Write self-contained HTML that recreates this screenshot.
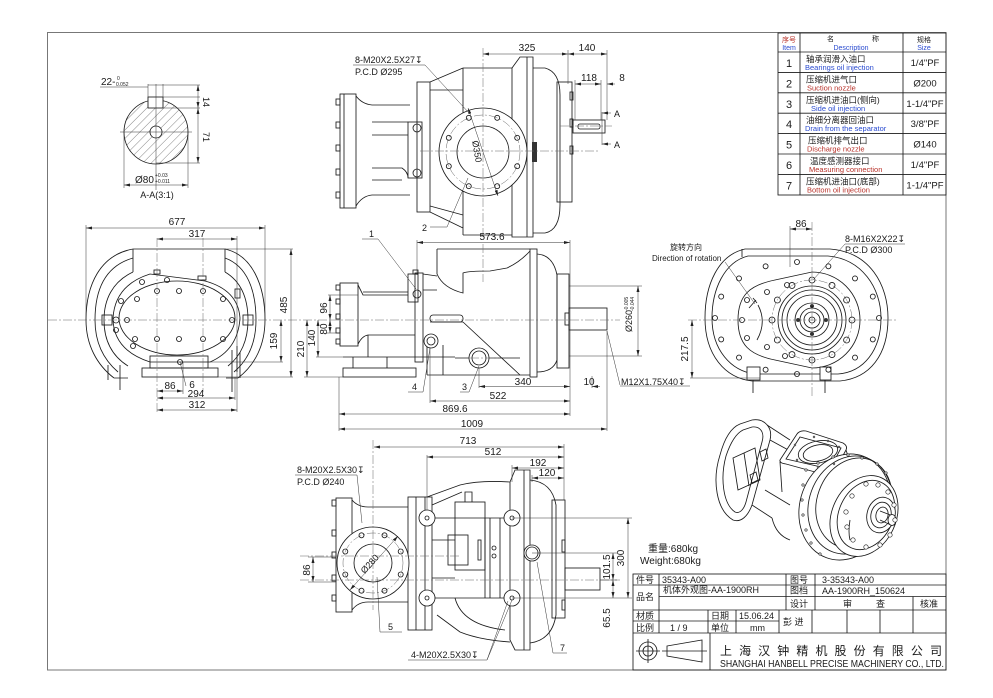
<!DOCTYPE html>
<html><head><meta charset="utf-8"><title>AA-1900RH</title>
<style>
html,body{margin:0;padding:0;background:#fff;width:993px;height:698px;overflow:hidden}
svg{display:block}
.d{stroke:#1a1a1a;fill:none;stroke-width:.85}
.dw{stroke:#1a1a1a;fill:#fff;stroke-width:.85}
.t{stroke:#333;fill:none;stroke-width:.5}
.c{stroke:#666;fill:none;stroke-width:.5;stroke-dasharray:9 2 2 2}
.dm{stroke:#333;fill:none;stroke-width:.5}
text{font-family:"Liberation Sans","Noto Sans CJK SC",sans-serif;fill:#1a1a1a}
.n{font-size:10px}
.s{font-size:9px}
.m{text-anchor:middle}
.bl{fill:#2a4bd0}
.rd{fill:#b8322a}
</style></head><body>
<svg width="993" height="698" viewBox="0 0 993 698" xmlns="http://www.w3.org/2000/svg">
<defs>
<marker id="ar" viewBox="0 0 8 4" refX="8" refY="2" markerWidth="6" markerHeight="3" markerUnits="userSpaceOnUse" orient="auto-start-reverse"><path d="M0,0 L8,2 L0,4z" fill="#222"/></marker>
<pattern id="hatch" patternUnits="userSpaceOnUse" width="6" height="6" patternTransform="rotate(45)"><line x1="0" y1="0" x2="0" y2="6" stroke="#333" stroke-width="0.6"/></pattern>
<clipPath id="aac"><circle cx="156" cy="132" r="32"/></clipPath>
</defs>
<rect width="993" height="698" fill="#fff"/>
<!-- border -->
<rect x="47.5" y="32.5" width="898.5" height="637.5" fill="none" stroke="#777" stroke-width="1"/>

<!-- ============ SECTION A-A ============ -->
<g>
<rect x="120" y="96" width="72" height="72" fill="url(#hatch)" clip-path="url(#aac)"/>
<circle cx="156" cy="132" r="32" class="d"/>
<rect x="148" y="97" width="15" height="11" class="dw"/>
<circle cx="156" cy="132" r="6" class="dw"/>
<line x1="120" y1="132" x2="192" y2="132" class="t"/>
<line x1="156" y1="84" x2="156" y2="190" class="t"/>
<g class="t">
<line x1="148" y1="84" x2="148" y2="108"/><line x1="163" y1="84" x2="163" y2="108"/>
<line x1="148" y1="85" x2="200" y2="85"/>
<line x1="163" y1="97" x2="200" y2="97"/>
<line x1="163" y1="108" x2="200" y2="108"/>
<line x1="156" y1="163" x2="200" y2="163"/>
<line x1="124" y1="132" x2="124" y2="188"/><line x1="188" y1="132" x2="188" y2="188"/>
<line x1="100" y1="87" x2="148" y2="87"/>
</g>
<line x1="198" y1="85" x2="198" y2="108" class="dm" marker-start="url(#ar)" marker-end="url(#ar)"/>
<line x1="198" y1="108" x2="198" y2="163" class="dm" marker-start="url(#ar)" marker-end="url(#ar)"/>
<line x1="124" y1="185" x2="188" y2="185" class="dm" marker-start="url(#ar)" marker-end="url(#ar)"/>
<text x="101" y="85" class="n">22-</text><text x="117" y="80" font-size="5">0</text><text x="116" y="86" font-size="5">0.052</text>
<text x="203" y="102" class="s m" transform="rotate(90 203 102)">14</text>
<text x="203" y="137" class="s m" transform="rotate(90 203 137)">71</text>
<text x="135" y="183" class="n">Ø80</text><text x="155" y="177" font-size="5">+0.03</text><text x="155" y="183" font-size="5">+0.011</text>
<text x="157" y="198" class="s m">A-A(3:1)</text>
</g>

<!-- ============ TOP VIEW ============ -->
<g>
<g class="d">
<rect x="340" y="94" width="16" height="114"/>
<line x1="344" y1="94" x2="344" y2="208"/>
<rect x="336" y="99" width="4" height="6"/><rect x="336" y="122" width="4" height="6"/><rect x="336" y="145" width="4" height="6"/><rect x="336" y="169" width="4" height="6"/><rect x="336" y="192" width="4" height="6"/>
<path d="M356,96 Q362,104 372,105 L410,105"/>
<path d="M356,206 Q362,196 372,195 L410,195"/>
<path d="M372,122 L408,122 M372,135 L408,135 M372,168 L402,168 Q408,172 408,178 M372,180 L402,180"/>
<rect x="408" y="122" width="14" height="56"/>
<circle cx="417" cy="128" r="4"/><circle cx="417" cy="173" r="4"/>
<rect x="417" y="82" width="13" height="130"/>
<path d="M430,82 L463,68 M430,212 L463,228 M430,90 L463,90 M430,206 L463,215"/>
<path d="M463,68 L463,235 M463,68 L512,68 M463,235 L512,235"/>
<path d="M512,68 L520,57 L533,57 L533,237 L512,237 Z"/>
<line x1="527" y1="57" x2="527" y2="237"/>
<path d="M533,68 L545,68 Q560,72 560,95 L560,205 Q560,230 545,233 L533,233"/>
<rect x="557" y="82" width="15" height="120"/>
<rect x="570" y="92" width="3" height="8"/><rect x="570" y="119" width="3" height="8"/><rect x="570" y="146" width="3" height="8"/>
<rect x="573" y="120" width="32" height="13"/>
<rect x="578" y="124" width="22" height="5" rx="2"/>
<circle cx="483" cy="152" r="44" fill="#fff"/>
<circle cx="483" cy="152" r="26"/>
</g>
<rect x="532" y="142" width="5" height="20" fill="#333"/>
<circle cx="483" cy="152" r="37" class="c"/>
<g class="d">
<circle cx="517.2" cy="166.2" r="2.5"/><circle cx="497.2" cy="186.2" r="2.5"/><circle cx="468.8" cy="186.2" r="2.5"/><circle cx="448.8" cy="166.2" r="2.5"/><circle cx="448.8" cy="137.8" r="2.5"/><circle cx="468.8" cy="117.8" r="2.5"/><circle cx="497.2" cy="117.8" r="2.5"/><circle cx="517.2" cy="137.8" r="2.5"/>
</g>
<line x1="420" y1="151" x2="600" y2="151" class="c"/>
<line x1="483" y1="48" x2="483" y2="238" class="c"/>
<line x1="560" y1="126" x2="612" y2="126" class="c"/>
<line x1="468" y1="108" x2="498" y2="196" class="dm" marker-start="url(#ar)" marker-end="url(#ar)"/>
<text x="474" y="152" class="s m" transform="rotate(80 474 152)">Ø350</text>
<g class="t">
<line x1="568" y1="50" x2="568" y2="84"/><line x1="607" y1="50" x2="607" y2="120"/>
<line x1="575" y1="80" x2="575" y2="120"/><line x1="601" y1="80" x2="601" y2="120"/>
<line x1="353" y1="65" x2="425" y2="65"/><line x1="425" y1="65" x2="469" y2="113"/>
<line x1="430" y1="227" x2="447" y2="227"/><line x1="447" y1="227" x2="468" y2="178"/>
<line x1="602" y1="112" x2="602" y2="145"/>
</g>
<line x1="611" y1="113" x2="602" y2="113" class="dm" marker-end="url(#ar)"/>
<line x1="611" y1="144" x2="602" y2="144" class="dm" marker-end="url(#ar)"/>
<line x1="483" y1="54" x2="568" y2="54" class="dm" marker-start="url(#ar)" marker-end="url(#ar)"/>
<line x1="568" y1="54" x2="607" y2="54" class="dm" marker-start="url(#ar)" marker-end="url(#ar)"/>
<line x1="575" y1="84" x2="601" y2="84" class="dm" marker-start="url(#ar)" marker-end="url(#ar)"/>
<line x1="615" y1="84" x2="607" y2="84" class="dm" marker-end="url(#ar)"/>
<text x="527" y="51" class="n m">325</text>
<text x="587" y="51" class="n m">140</text>
<text x="589" y="81" class="n m">118</text>
<text x="622" y="81" class="n m">8</text>
<text x="614" y="117" class="s">A</text><text x="614" y="148" class="s">A</text>
<text x="355" y="63" class="s">8-M20X2.5X27↧</text>
<text x="355" y="75" class="s">P.C.D Ø295</text>
<text x="422" y="231" class="s">2</text>
</g>

<!-- ============ FRONT VIEW (LEFT) ============ -->
<g>
<g class="d">
<path d="M133,249 L225,249 M133,249 L133,272 M225,249 L225,272"/>
<path d="M133,249 C100,255 86,285 86,320 C86,345 97,365 114,378"/>
<path d="M133,258 C105,266 95,290 95,320 C95,343 104,360 118,372"/>
<path d="M133,272 C112,282 104,300 104,320 C104,340 112,356 128,366"/>
<path d="M225,249 C252,255 265,285 265,320 C265,345 255,365 238,378"/>
<path d="M225,258 C247,266 256,290 256,320 C256,343 248,360 234,372"/>
<path d="M225,272 C242,282 248,300 248,320 C248,340 241,356 228,366"/>
<path d="M114,378 L128,378 M238,378 L226,378"/>
<path d="M150,274 L205,281 Q238,290 240,318 Q238,350 210,362 L150,362 Q113,350 113,318 Q115,285 150,274 Z"/>
<ellipse cx="177" cy="318" rx="58" ry="37"/>
<rect x="142" y="368" width="76" height="9"/>
<rect x="150" y="356" width="58" height="12"/>
<rect x="102" y="315" width="10" height="10"/><circle cx="116" cy="320" r="3"/>
<rect x="243" y="315" width="10" height="10"/>
<rect x="154" y="270" width="6" height="4"/><rect x="198" y="276" width="8" height="4"/>
<rect x="235" y="289" width="5" height="9"/>
<path d="M232,350 L232,392 M237,346 L237,372 M240,352 L240,378"/>
<path d="M120,365 L120,390 M108,365 L108,380"/>
</g>
<g class="d">
<circle cx="142" cy="282" r="2.5"/><circle cx="167" cy="280" r="2.5"/><circle cx="121" cy="301" r="2.5"/><circle cx="137" cy="299" r="2.5"/><circle cx="157" cy="291" r="2.5"/><circle cx="179" cy="291" r="2.5"/><circle cx="203" cy="291" r="2.5"/><circle cx="223" cy="299" r="2.5"/><circle cx="127" cy="320" r="2.5"/><circle cx="232" cy="320" r="2.5"/><circle cx="116" cy="330" r="2.5"/><circle cx="135" cy="339" r="2.5"/><circle cx="157" cy="339" r="2.5"/><circle cx="179" cy="339" r="2.5"/><circle cx="203" cy="339" r="2.5"/><circle cx="223" cy="339" r="2.5"/><circle cx="133" cy="346" r="2.5"/><circle cx="180" cy="362" r="2.5"/>
</g>
<line x1="48" y1="320" x2="330" y2="320" class="c"/>
<line x1="157" y1="238" x2="157" y2="412" class="c"/>
<line x1="203" y1="238" x2="203" y2="392" class="c"/>
<g class="t">
<line x1="86" y1="225" x2="86" y2="320"/><line x1="265" y1="225" x2="265" y2="320"/>
<line x1="237" y1="236" x2="237" y2="412"/>
<line x1="225" y1="249" x2="293" y2="249"/><line x1="218" y1="377" x2="293" y2="377"/>
<line x1="200" y1="362" x2="283" y2="362"/>
<line x1="183" y1="362" x2="183" y2="394"/><line x1="180" y1="362" x2="186" y2="386"/>
<line x1="235" y1="377" x2="235" y2="400"/>
</g>
<line x1="86" y1="228" x2="265" y2="228" class="dm" marker-start="url(#ar)" marker-end="url(#ar)"/>
<line x1="157" y1="239" x2="237" y2="239" class="dm" marker-start="url(#ar)" marker-end="url(#ar)"/>
<line x1="291" y1="249" x2="291" y2="377" class="dm" marker-start="url(#ar)" marker-end="url(#ar)"/>
<line x1="281" y1="320" x2="281" y2="362" class="dm" marker-start="url(#ar)" marker-end="url(#ar)"/>
<line x1="157" y1="391" x2="183" y2="391" class="dm" marker-start="url(#ar)" marker-end="url(#ar)"/>
<line x1="157" y1="398" x2="235" y2="398" class="dm" marker-start="url(#ar)" marker-end="url(#ar)"/>
<line x1="157" y1="410" x2="237" y2="410" class="dm" marker-start="url(#ar)" marker-end="url(#ar)"/>
<text x="177" y="225" class="n m">677</text>
<text x="197" y="237" class="n m">317</text>
<text x="287" y="305" class="n m" transform="rotate(-90 287 305)">485</text>
<text x="277" y="341" class="n m" transform="rotate(-90 277 341)">159</text>
<text x="170" y="389" class="n m">86</text>
<text x="192" y="388" class="n m">6</text>
<text x="196" y="397" class="n m">294</text>
<text x="197" y="408" class="n m">312</text>
</g>

<!-- ============ SIDE VIEW (CENTER) ============ -->
<g>
<g class="d">
<path d="M437,249 L530,249 M437,249 L437,274"/>
<path d="M437,274 Q443,288 463,293 L463,273 Q468,271 490,271 L507,268 Q520,262 530,251"/>
<path d="M463,322 L520,375 M430,322 L463,322"/>
<rect x="430" y="315" width="33" height="7" rx="3"/>
<path d="M427,375 L530,375 M427,342 L427,375 M443,345 L443,375 M455,358 L520,358"/>
<rect x="530" y="249" width="7" height="128"/>
<path d="M537,254 Q553,255 557,275 L557,360 Q553,372 537,372"/>
<rect x="557" y="274" width="12" height="94"/>
<rect x="565" y="313" width="4" height="12"/>
<rect x="569" y="308" width="38" height="22"/>
<rect x="340" y="283" width="18" height="63"/>
<rect x="336" y="285" width="4" height="5"/><rect x="336" y="299" width="4" height="5"/><rect x="336" y="314" width="4" height="5"/><rect x="336" y="328" width="4" height="5"/><rect x="336" y="339" width="4" height="5"/>
<path d="M358,285 L363,295 L408,295 M363,292 L408,292 M358,344 Q362,336 368,335 L415,335"/>
<path d="M368,335 L368,357 M343,357 L455,357"/>
<rect x="343" y="368" width="73" height="9"/>
<path d="M353,357 L353,368 M387,357 L387,368"/>
<rect x="415" y="273" width="8" height="89"/>
<rect x="408" y="274" width="10" height="28"/>
<rect x="413" y="270" width="5" height="4"/>
<circle cx="417" cy="294" r="4"/>
<circle cx="431" cy="341" r="7" fill="#fff"/><circle cx="431" cy="341" r="4"/>
<circle cx="479" cy="358" r="10" fill="#fff"/><circle cx="479" cy="358" r="7"/>
<path d="M423,290 L437,290 M423,274 L437,276"/>
</g>
<line x1="330" y1="320" x2="620" y2="320" class="c"/>
<line x1="483" y1="244" x2="483" y2="282" class="c"/>
<line x1="470" y1="358" x2="500" y2="358" class="c"/>
<g class="t">
<line x1="417" y1="240" x2="417" y2="275"/><line x1="570" y1="240" x2="570" y2="416"/>
<line x1="339" y1="377" x2="339" y2="431"/><line x1="430" y1="348" x2="430" y2="403"/>
<line x1="479" y1="368" x2="479" y2="388"/><line x1="607" y1="331" x2="607" y2="431"/>
<line x1="592" y1="376" x2="592" y2="388"/>
<line x1="569" y1="286" x2="642" y2="286"/><line x1="569" y1="356" x2="642" y2="356"/>
<line x1="328" y1="295" x2="358" y2="295"/><line x1="316" y1="357" x2="343" y2="357"/>
<line x1="304" y1="377" x2="343" y2="377"/><line x1="326" y1="333" x2="340" y2="333"/>
<line x1="362" y1="239" x2="378" y2="239"/><line x1="378" y1="239" x2="416" y2="289"/>
<line x1="408" y1="392" x2="423" y2="392"/><line x1="423" y1="392" x2="430" y2="348"/>
<line x1="460" y1="392" x2="469" y2="392"/><line x1="469" y1="392" x2="479" y2="366"/>
<line x1="607" y1="331" x2="620" y2="385"/><line x1="620" y1="386" x2="690" y2="386"/>
</g>
<line x1="417" y1="242.5" x2="570" y2="242.5" class="dm" marker-start="url(#ar)" marker-end="url(#ar)"/>
<line x1="479" y1="386.5" x2="570" y2="386.5" class="dm" marker-start="url(#ar)" marker-end="url(#ar)"/>
<line x1="600" y1="386.5" x2="592" y2="386.5" class="dm" marker-end="url(#ar)"/>
<line x1="430" y1="401" x2="570" y2="401" class="dm" marker-start="url(#ar)" marker-end="url(#ar)"/>
<line x1="339" y1="414" x2="570" y2="414" class="dm" marker-start="url(#ar)" marker-end="url(#ar)"/>
<line x1="339" y1="429" x2="607" y2="429" class="dm" marker-start="url(#ar)" marker-end="url(#ar)"/>
<line x1="638" y1="286" x2="638" y2="356" class="dm" marker-start="url(#ar)" marker-end="url(#ar)"/>
<line x1="330" y1="295" x2="330" y2="320" class="dm" marker-start="url(#ar)" marker-end="url(#ar)"/>
<line x1="330" y1="320" x2="330" y2="333" class="dm" marker-start="url(#ar)" marker-end="url(#ar)"/>
<line x1="318" y1="320" x2="318" y2="357" class="dm" marker-start="url(#ar)" marker-end="url(#ar)"/>
<line x1="307" y1="320" x2="307" y2="377" class="dm" marker-start="url(#ar)" marker-end="url(#ar)"/>
<text x="492" y="240" class="n m">573.6</text>
<text x="523" y="385" class="n m">340</text>
<text x="589" y="385" class="n m">10</text>
<text x="498" y="399" class="n m">522</text>
<text x="455" y="412" class="n m">869.6</text>
<text x="472" y="427" class="n m">1009</text>
<text x="327" y="308" class="n m" transform="rotate(-90 327 308)">96</text>
<text x="327" y="329" class="n m" transform="rotate(-90 327 329)">80</text>
<text x="315" y="338" class="n m" transform="rotate(-90 315 338)">140</text>
<text x="304" y="349" class="n m" transform="rotate(-90 304 349)">210</text>
<text x="632" y="321" class="s m" transform="rotate(-90 632 321)">Ø260</text>
<text x="628" y="311" font-size="5" transform="rotate(-90 628 311)">-0.005</text>
<text x="634" y="311" font-size="5" transform="rotate(-90 634 311)">-0.044</text>
<text x="621" y="385" class="s">M12X1.75X40↧</text>
<text x="369" y="237" class="s">1</text>
<text x="412" y="390" class="s">4</text>
<text x="462" y="390" class="s">3</text>
</g>

<!-- ============ END VIEW (RIGHT) ============ -->
<g>
<g class="d">
<path d="M745,249 L830,249 C870,252 888,285 888,318 C888,355 870,378 840,381 L752,381 C725,378 705,355 705,318 C705,285 718,255 745,249 Z"/>
<path d="M748,256 L828,256 C862,259 881,288 881,318 C881,350 864,372 838,374 L755,374 C731,371 712,350 712,318 C712,290 724,262 748,256 Z"/>
<path d="M738,320 C738,295 750,285 775,280 L812,272 A48,48 0 0 1 812,368 L775,360 C750,355 738,345 738,320 Z"/>
<rect x="747" y="367" width="13" height="13" fill="#fff"/><rect x="820" y="367" width="11" height="13" fill="#fff"/>
<path d="M753,380 L753,393 M825,380 L825,393 M742,249 L742,257"/>
<circle cx="812" cy="320" r="34" fill="#fff"/>
<circle cx="812" cy="320" r="30"/>
<circle cx="812" cy="320" r="25"/>
<circle cx="812" cy="320" r="17"/>
<circle cx="812" cy="320" r="12"/>
<circle cx="812" cy="320" r="8"/>
<circle cx="812" cy="320" r="3"/>
</g>
<circle cx="812" cy="320" r="40" class="c"/>
<g class="d">
<circle cx="852" cy="320" r="3"/><circle cx="846.6" cy="340" r="3"/><circle cx="832" cy="354.6" r="3"/><circle cx="812" cy="360" r="3"/><circle cx="792" cy="354.6" r="3"/><circle cx="777.4" cy="340" r="3"/><circle cx="772" cy="320" r="3"/><circle cx="777.4" cy="300" r="3"/><circle cx="792" cy="285.4" r="3"/><circle cx="812" cy="280" r="3"/><circle cx="832" cy="285.4" r="3"/><circle cx="846.6" cy="300" r="3"/>
<circle cx="879" cy="318" r="2.5"/><circle cx="872.8" cy="339.4" r="2.5"/><circle cx="855" cy="357.6" r="2.5"/><circle cx="828.4" cy="369.7" r="2.5"/><circle cx="797" cy="374" r="2.5"/><circle cx="765.6" cy="369.7" r="2.5"/><circle cx="739" cy="357.6" r="2.5"/><circle cx="721.2" cy="339.4" r="2.5"/><circle cx="715" cy="318" r="2.5"/><circle cx="721.2" cy="296.6" r="2.5"/><circle cx="739" cy="278.4" r="2.5"/><circle cx="765.6" cy="266.3" r="2.5"/><circle cx="797" cy="262" r="2.5"/><circle cx="828.4" cy="266.3" r="2.5"/><circle cx="855" cy="278.4" r="2.5"/><circle cx="872.8" cy="296.6" r="2.5"/>
<circle cx="767" cy="292" r="2.5"/><circle cx="747" cy="300" r="2.5"/><circle cx="742" cy="320" r="2.5"/><circle cx="747" cy="338" r="2.5"/><circle cx="767" cy="347" r="2.5"/><circle cx="787" cy="285" r="2.5"/><circle cx="785" cy="356" r="2.5"/>
<path d="M758,305 Q767,322 757,340 M757,303 L753,298 M749,308 L756,300"/>
<circle cx="812" cy="306" r="1.5" fill="#222"/><circle cx="812" cy="334" r="1.5" fill="#222"/><circle cx="798" cy="320" r="1.5" fill="#222"/><circle cx="826" cy="320" r="1.5" fill="#222"/>
</g>
<line x1="688" y1="320" x2="896" y2="320" class="c"/>
<line x1="812" y1="222" x2="812" y2="396" class="c"/>
<g class="t">
<line x1="790" y1="226" x2="790" y2="267"/>
<line x1="690" y1="378" x2="760" y2="378"/>
<line x1="845" y1="244" x2="905" y2="244"/><line x1="845" y1="244" x2="813" y2="280"/>
<line x1="725" y1="262" x2="755" y2="304"/>
</g>
<line x1="790" y1="229" x2="812" y2="229" class="dm" marker-start="url(#ar)" marker-end="url(#ar)"/>
<line x1="692" y1="320" x2="692" y2="378" class="dm" marker-start="url(#ar)" marker-end="url(#ar)"/>
<text x="801" y="227" class="n m">86</text>
<text x="688" y="349" class="n m" transform="rotate(-90 688 349)">217.5</text>
<text x="845" y="242" class="s">8-M16X2X22↧</text>
<text x="845" y="253" class="s">P.C.D Ø300</text>
<text x="670" y="250" font-size="8">旋转方向</text>
<text x="652" y="261" font-size="8">Direction of rotation</text>
</g>

<!-- ============ BOTTOM VIEW ============ -->
<g>
<g class="d">
<rect x="336" y="498" width="16" height="114"/>
<rect x="332" y="500" width="4" height="6"/><rect x="332" y="530" width="4" height="6"/><rect x="332" y="552" width="4" height="6"/><rect x="332" y="575" width="4" height="6"/><rect x="332" y="595" width="4" height="6"/>
<path d="M352,500 Q358,507 368,507 L408,507 M352,610 Q358,602 368,602 L408,602"/>
<rect x="408" y="497" width="24" height="133"/>
<path d="M416,497 L416,630 M425,497 L425,630"/>
<path d="M427,497 L460,485 Q480,480 510,482 M432,505 L462,492 M437,615 L460,632 Q480,640 510,642"/>
<path d="M432,518 L512,518 M432,598 L512,598 M432,540 L455,540 M432,578 L455,578"/>
<rect x="455" y="502" width="30" height="68"/>
<rect x="448" y="535" width="20" height="30"/>
<rect x="478" y="540" width="3" height="20"/>
<circle cx="494" cy="548" r="2"/><circle cx="494" cy="556" r="2"/>
<path d="M485,518 L485,598 M490,518 L490,598 M500,518 L500,598 M465,502 L465,492 L472,492 L472,502"/>
<path d="M455,598 Q462,625 505,630"/>
<path d="M510,482 L515,470 L530,470 L530,650 L515,650 L510,640 Z"/>
<line x1="524" y1="470" x2="524" y2="650"/>
<path d="M530,480 Q552,482 556,505 L556,615 Q552,640 530,643"/>
<rect x="552" y="500" width="13" height="118"/>
<rect x="562" y="540" width="3" height="12"/><rect x="562" y="600" width="3" height="10"/>
<rect x="565" y="568" width="35" height="22"/>
<circle cx="373" cy="563" r="36" fill="#fff"/>
<circle cx="373" cy="563" r="19"/>
</g>
<circle cx="373" cy="563" r="30" class="c"/>
<g class="d">
<circle cx="400.7" cy="574.5" r="2.5"/><circle cx="384.5" cy="590.7" r="2.5"/><circle cx="361.5" cy="590.7" r="2.5"/><circle cx="345.3" cy="574.5" r="2.5"/><circle cx="345.3" cy="551.5" r="2.5"/><circle cx="361.5" cy="535.3" r="2.5"/><circle cx="384.5" cy="535.3" r="2.5"/><circle cx="400.7" cy="551.5" r="2.5"/>
<circle cx="427" cy="518" r="8" fill="#fff"/><circle cx="427" cy="518" r="2"/>
<circle cx="427" cy="598" r="8" fill="#fff"/><circle cx="427" cy="598" r="2"/>
<circle cx="512" cy="518" r="8" fill="#fff"/><circle cx="512" cy="518" r="2"/>
<circle cx="512" cy="598" r="8" fill="#fff"/><circle cx="512" cy="598" r="2"/>
<circle cx="532" cy="553" r="8" fill="#fff"/><circle cx="532" cy="553" r="6"/>
</g>
<line x1="300" y1="556" x2="460" y2="556" class="c"/>
<line x1="300" y1="580" x2="620" y2="580" class="c"/>
<line x1="373" y1="440" x2="373" y2="610" class="c"/>
<line x1="350" y1="590" x2="398" y2="536" class="dm" marker-start="url(#ar)" marker-end="url(#ar)"/>
<text x="372" y="566" class="s m" transform="rotate(-48 372 566)">Ø280</text>
<g class="t">
<line x1="564" y1="444" x2="564" y2="500"/><line x1="427" y1="455" x2="427" y2="510"/>
<line x1="512" y1="465" x2="512" y2="482"/><line x1="532" y1="475" x2="532" y2="482"/>
<line x1="512" y1="518" x2="632" y2="518"/><line x1="512" y1="598" x2="632" y2="598"/>
<line x1="532" y1="553" x2="617" y2="553"/><line x1="600" y1="580" x2="617" y2="580"/>
<line x1="308" y1="557" x2="336" y2="557"/><line x1="308" y1="582" x2="336" y2="582"/>
<line x1="295" y1="475" x2="357" y2="475"/><line x1="357" y1="475" x2="362" y2="523"/>
<line x1="380" y1="632" x2="402" y2="632"/><line x1="380" y1="632" x2="377" y2="577"/>
<line x1="553" y1="653" x2="567" y2="653"/><line x1="553" y1="653" x2="537" y2="562"/>
<line x1="408" y1="660" x2="487" y2="660"/><line x1="487" y1="660" x2="512" y2="600"/><line x1="487" y1="660" x2="508" y2="601"/>
</g>
<line x1="374" y1="447" x2="564" y2="447" class="dm" marker-start="url(#ar)" marker-end="url(#ar)"/>
<line x1="427" y1="457" x2="564" y2="457" class="dm" marker-start="url(#ar)" marker-end="url(#ar)"/>
<line x1="512" y1="468" x2="564" y2="468" class="dm" marker-start="url(#ar)" marker-end="url(#ar)"/>
<line x1="532" y1="478" x2="564" y2="478" class="dm" marker-start="url(#ar)" marker-end="url(#ar)"/>
<line x1="628" y1="518" x2="628" y2="598" class="dm" marker-start="url(#ar)" marker-end="url(#ar)"/>
<line x1="613" y1="553" x2="613" y2="580" class="dm" marker-start="url(#ar)" marker-end="url(#ar)"/>
<line x1="613" y1="580" x2="613" y2="598" class="dm" marker-start="url(#ar)" marker-end="url(#ar)"/>
<line x1="313" y1="557" x2="313" y2="582" class="dm" marker-start="url(#ar)" marker-end="url(#ar)"/>
<text x="468" y="444" class="n m">713</text>
<text x="493" y="455" class="n m">512</text>
<text x="538" y="466" class="n m">192</text>
<text x="547" y="476" class="n m">120</text>
<text x="624" y="558" class="n m" transform="rotate(-90 624 558)">300</text>
<text x="610" y="567" class="n m" transform="rotate(-90 610 567)">101.5</text>
<text x="610" y="618" class="n m" transform="rotate(-90 610 618)">65.5</text>
<text x="310" y="570" class="n m" transform="rotate(-90 310 570)">86</text>
<text x="297" y="473" class="s">8-M20X2.5X30↧</text>
<text x="297" y="485" class="s">P.C.D Ø240</text>
<text x="388" y="630" class="s">5</text>
<text x="560" y="651" class="s">7</text>
<text x="411" y="658" class="s">4-M20X2.5X30↧</text>
</g>

<!-- ============ ISOMETRIC ============ -->
<g class="d" stroke-width=".75">
<!-- left end cap -->
<path d="M720,455 C712,480 716,510 733,520 C741,523 748,516 752,505 L770,440 C773,428 765,418 752,420 L740,424 C730,428 724,440 720,455 Z" fill="#fff"/>
<path d="M726,456 C720,478 723,504 735,512 C740,514 744,509 746,502 L762,442 C765,432 760,426 752,427 L743,430 C735,434 730,444 726,456 Z"/>
<!-- motor body -->
<path d="M767,425 L790,440 M752,505 L772,518 M770,440 L792,452"/>
<path d="M733,458 L755,448 L760,480 L738,490 Z M744,453 L749,486"/>
<path d="M760,452 L766,449 L768,458 L762,461 Z M750,475 L756,472 L758,480 L752,483 Z"/>
<path d="M772,518 Q776,535 790,540 M765,490 L790,505"/>
<!-- top flange -->
<path d="M780,460 L797,434 Q800,430 806,431 L843,443 Q848,446 846,450 L834,472 Q831,476 826,475 L786,464 Q779,463 780,460 Z" fill="#fff"/>
<path d="M786,459 L800,437 L841,448 L830,469 Z"/>
<ellipse cx="818" cy="452" rx="20" ry="11" transform="rotate(-12 818 452)"/>
<ellipse cx="818" cy="453" rx="15" ry="8" transform="rotate(-12 818 453)"/>
<path d="M780,462 L782,492 M833,474 L834,486 M846,450 L848,456"/>
<!-- big ring -->
<ellipse cx="845" cy="507" rx="45" ry="54" transform="rotate(20 845 507)" fill="#fff"/>
<ellipse cx="850" cy="505" rx="41" ry="50" transform="rotate(20 850 505)"/>
<ellipse cx="854" cy="503" rx="37" ry="46" transform="rotate(20 854 503)"/>
<!-- cover -->
<ellipse cx="864" cy="516" rx="32" ry="42" transform="rotate(25 864 516)" fill="#fff"/>
<ellipse cx="866" cy="515" rx="27" ry="36" transform="rotate(25 866 515)"/>
<ellipse cx="881" cy="515" rx="14" ry="18" transform="rotate(15 881 515)" fill="#fff"/>
<ellipse cx="881" cy="515" rx="10" ry="13" transform="rotate(15 881 515)"/>
<ellipse cx="882" cy="515" rx="6" ry="8" transform="rotate(15 882 515)"/>
<path d="M880,511 L893,516 M880,520 L891,525"/>
<ellipse cx="892" cy="520" rx="4" ry="5.5" fill="#fff"/>
<path d="M850,520 Q848,532 850,540"/>
</g>
<g fill="#fff" stroke="#1a1a1a" stroke-width=".6">
<circle cx="806" cy="470" r="1.2"/><circle cx="803" cy="485" r="1.2"/><circle cx="802" cy="500" r="1.2"/><circle cx="803" cy="515" r="1.2"/><circle cx="806" cy="530" r="1.2"/><circle cx="811" cy="543" r="1.2"/><circle cx="820" cy="554" r="1.2"/><circle cx="818" cy="463" r="1.2"/><circle cx="833" cy="457" r="1.2"/><circle cx="848" cy="455" r="1.2"/><circle cx="862" cy="458" r="1.2"/><circle cx="877" cy="464" r="1.2"/><circle cx="886" cy="473" r="1.2"/>
<circle cx="866" cy="484" r="2.2"/><circle cx="878" cy="485" r="2.2"/><circle cx="888" cy="492" r="2.2"/><circle cx="894" cy="505" r="2.2"/><circle cx="895" cy="520" r="2.2"/><circle cx="890" cy="535" r="2.2"/><circle cx="880" cy="545" r="2.2"/><circle cx="866" cy="547" r="2.2"/><circle cx="853" cy="540" r="2.2"/><circle cx="847" cy="527" r="2.2"/><circle cx="846" cy="512" r="2.2"/><circle cx="852" cy="496" r="2.2"/>
<circle cx="814" cy="437" r="0.9"/><circle cx="828" cy="441" r="0.9"/><circle cx="839" cy="447" r="0.9"/><circle cx="834" cy="464" r="0.9"/><circle cx="818" cy="467" r="0.9"/><circle cx="797" cy="460" r="0.9"/><circle cx="795" cy="445" r="0.9"/>
</g>

<!-- weight -->
<text x="648" y="552" font-size="10">重量:680kg</text>
<text x="640" y="564" font-size="10">Weight:680kg</text>

<!-- ============ PARTS TABLE ============ -->
<g class="d" stroke-width=".7">
<rect x="778" y="33" width="168" height="162"/>
<line x1="800" y1="33" x2="800" y2="195"/>
<line x1="903" y1="33" x2="903" y2="195"/>
<line x1="778" y1="52" x2="946" y2="52"/>
<line x1="778" y1="72.4" x2="946" y2="72.4"/>
<line x1="778" y1="92.8" x2="946" y2="92.8"/>
<line x1="778" y1="113.2" x2="946" y2="113.2"/>
<line x1="778" y1="133.6" x2="946" y2="133.6"/>
<line x1="778" y1="154" x2="946" y2="154"/>
<line x1="778" y1="174.4" x2="946" y2="174.4"/>
</g>
<g font-size="7">
<text x="789" y="42" class="m rd">序号</text><text x="789" y="50" class="m bl">Item</text>
<text x="827" y="41">名</text><text x="872" y="41">称</text><text x="851" y="50" class="m bl">Description</text>
<text x="924" y="42" class="m">规格</text><text x="924" y="50" class="m bl">Size</text>
</g>
<g font-size="11">
<text x="789" y="67" class="m">1</text>
<text x="789" y="87.4" class="m">2</text>
<text x="789" y="107.8" class="m">3</text>
<text x="789" y="128.2" class="m">4</text>
<text x="789" y="148.6" class="m">5</text>
<text x="789" y="169" class="m">6</text>
<text x="789" y="189.4" class="m">7</text>
</g>
<g font-size="8.5">
<text x="806" y="62">轴承润滑入油口</text>
<text x="806" y="82.4">压缩机进气口</text>
<text x="806" y="102.8">压缩机进油口(侧向)</text>
<text x="806" y="123.2">油细分离器回油口</text>
<text x="808" y="143.6">压缩机排气出口</text>
<text x="810" y="164">温度感测器接口</text>
<text x="806" y="184.4">压缩机进油口(底部)</text>
</g>
<g font-size="7.5">
<text x="805" y="70" class="bl">Bearings oil injection</text>
<text x="807" y="90.4" class="rd">Suction nozzle</text>
<text x="811" y="110.8" class="bl">Side oil injection</text>
<text x="805" y="131.2" class="bl">Drain from the separator</text>
<text x="807" y="151.6" class="rd">Discharge nozzle</text>
<text x="809" y="172" class="rd">Measuring connection</text>
<text x="807" y="192.4" class="rd">Bottom oil injection</text>
</g>
<g font-size="9.5">
<text x="925" y="66" class="m">1/4"PF</text>
<text x="925" y="86.4" class="m">Ø200</text>
<text x="925" y="106.8" class="m">1-1/4"PF</text>
<text x="925" y="127.2" class="m">3/8"PF</text>
<text x="925" y="147.6" class="m">Ø140</text>
<text x="925" y="168" class="m">1/4"PF</text>
<text x="925" y="188.4" class="m">1-1/4"PF</text>
</g>

<!-- ============ TITLE BLOCK ============ -->
<g class="d" stroke-width=".7">
<rect x="633" y="574" width="313" height="96"/>
<line x1="633" y1="585" x2="946" y2="585"/>
<line x1="659" y1="596.5" x2="946" y2="596.5"/>
<line x1="633" y1="610" x2="946" y2="610"/>
<line x1="633" y1="621" x2="779" y2="621"/>
<line x1="633" y1="633" x2="946" y2="633"/>
<line x1="659" y1="574" x2="659" y2="633"/>
<line x1="786" y1="574" x2="786" y2="610"/>
<line x1="815" y1="574" x2="815" y2="610"/>
<line x1="913" y1="596.5" x2="913" y2="633"/>
<line x1="708" y1="610" x2="708" y2="633"/>
<line x1="736" y1="610" x2="736" y2="633"/>
<line x1="779" y1="610" x2="779" y2="633"/>
<line x1="812" y1="610" x2="812" y2="633"/>
<line x1="847" y1="610" x2="847" y2="633"/>
<line x1="880" y1="610" x2="880" y2="633"/>
<line x1="710" y1="633" x2="710" y2="670"/>
<circle cx="648" cy="651" r="9"/>
<circle cx="648" cy="651" r="5"/>
<path d="M636,651 L660,651 M648,639 L648,663"/>
<path d="M667,646 L702,640 L702,662 L667,656 Z M662,651 L707,651"/>
</g>
<g font-size="9">
<text x="636" y="583">件号</text>
<text x="662" y="583">35343-A00</text>
<text x="790" y="583">图号</text>
<text x="822" y="583">3-35343-A00</text>
<text x="636" y="600">品名</text>
<text x="663" y="593">机体外观图-AA-1900RH</text>
<text x="790" y="593.5">图档</text>
<text x="822" y="594">AA-1900RH_150624</text>
<text x="790" y="607">设计</text>
<text x="843" y="607">审</text>
<text x="876" y="607">查</text>
<text x="920" y="607">核准</text>
<text x="636" y="619">材质</text>
<text x="711" y="619">日期</text>
<text x="739" y="619">15.06.24</text>
<text x="783" y="625">彭 进</text>
<text x="636" y="631">比例</text>
<text x="670" y="631">1 / 9</text>
<text x="711" y="631">单位</text>
<text x="750" y="631">mm</text>
</g>
<text x="720" y="655" font-size="12" textLength="222" lengthAdjust="spacing">上海汉钟精机股份有限公司</text>
<text x="720" y="667" font-size="10.5" textLength="224" lengthAdjust="spacingAndGlyphs">SHANGHAI HANBELL PRECISE MACHINERY CO., LTD.</text>
</svg>
</body></html>
